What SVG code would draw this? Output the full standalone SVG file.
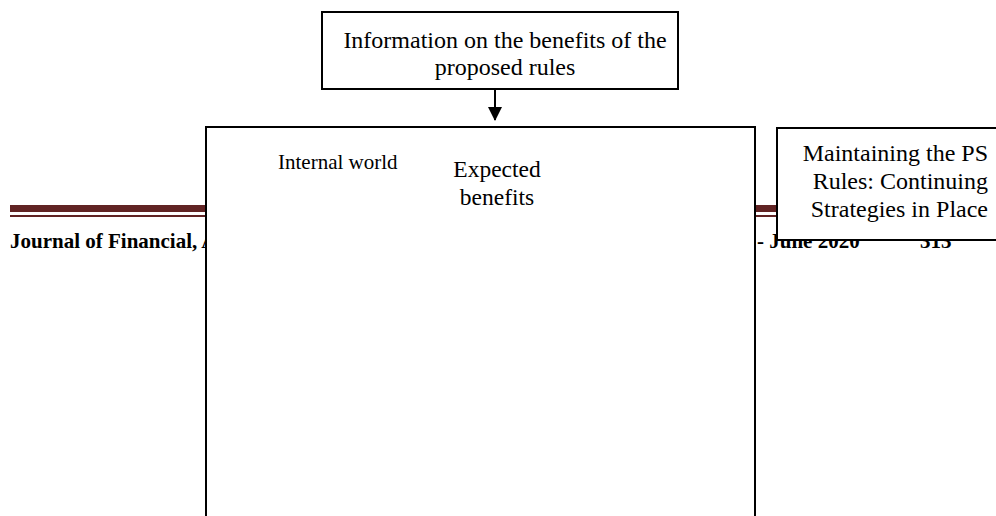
<svg xmlns="http://www.w3.org/2000/svg" width="996" height="516" viewBox="0 0 996 516">
<style>
.box{fill:#fff;stroke:#000;stroke-width:2}
.t{font-family:"Liberation Serif","Times New Roman",serif;fill:#000}
.hdr{font-family:"Liberation Serif","Times New Roman",serif;font-weight:bold;font-size:21px;fill:#000}
</style>
<defs>
<marker id="ah" markerWidth="14" markerHeight="14" refX="13" refY="7" orient="auto" markerUnits="userSpaceOnUse">
<path d="M0,0 L14,7 L0,14 z" fill="#000"/>
</marker>
</defs>
<rect width="996" height="516" fill="#fff"/>
<g id="page-header">
<rect x="10" y="205" width="780" height="7" fill="#612323"/>
<rect x="10" y="215" width="780" height="2" fill="#612323"/>
<text class="hdr" x="10" y="248">Journal of Financial, Accounting and Managerial Studies</text>
<text class="hdr" x="757" y="248">- June 2020</text>
<text class="hdr" x="920" y="248">313</text>
</g>
<g id="main-box">
<rect class="box" x="206" y="127" width="549" height="400"/>
<text class="t" x="278" y="169" font-size="21">Internal world</text>
<text class="t" x="497" y="177" font-size="23.5" text-anchor="middle">Expected</text>
<text class="t" x="497" y="205" font-size="23.5" text-anchor="middle">benefits</text>
</g>
<g id="info-box">
<rect class="box" x="322" y="12" width="356" height="77"/>
<text class="t" x="505" y="48" font-size="24" text-anchor="middle">Information on the benefits of the</text>
<text class="t" x="505" y="75" font-size="24" text-anchor="middle">proposed rules</text>
</g>
<g id="maintain-box">
<rect class="box" x="777" y="128" width="222" height="112"/>
<text class="t" x="988" y="161" font-size="24" text-anchor="end">Maintaining the PS</text>
<text class="t" x="988" y="189" font-size="24" text-anchor="end">Rules: Continuing</text>
<text class="t" x="988" y="217" font-size="24" text-anchor="end">Strategies in Place</text>
</g>
<g id="connectors">
<line x1="495" y1="89" x2="495" y2="120" stroke="#000" stroke-width="2" marker-end="url(#ah)"/>
</g>
</svg>
